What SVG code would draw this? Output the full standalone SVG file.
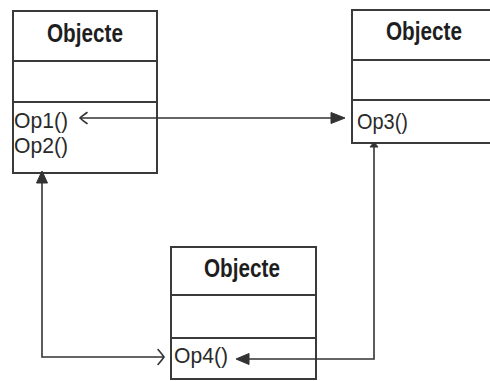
<svg xmlns="http://www.w3.org/2000/svg" width="490" height="381" viewBox="0 0 490 381">
  <style>
    .box { fill: #ffffff; stroke: #3a3a3a; stroke-width: 2; }
    .div { stroke: #3a3a3a; stroke-width: 2; }
    .title { font-family: "Liberation Sans", Arial, sans-serif; font-weight: bold; font-size: 25px; fill: #1e1e1e; }
    .op { font-family: "Liberation Sans", Arial, sans-serif; font-size: 22px; fill: #2a2a2a; }
    .wire { fill: none; stroke: #333333; stroke-width: 1.6; }
    .head { fill: #333333; stroke: #333333; stroke-width: 1; }
    .open { fill: none; stroke: #333333; stroke-width: 1.6; stroke-linecap: round; }
  </style>

  <rect width="490" height="381" fill="#ffffff"/>

  <!-- class box: top left -->
  <g id="objecte-a">
    <rect class="box" x="13" y="11" width="144" height="162"/>
    <line class="div" x1="13" y1="61" x2="157" y2="61"/>
    <line class="div" x1="13" y1="102" x2="157" y2="102"/>
    <text class="title" x="47" y="42" textLength="76" lengthAdjust="spacingAndGlyphs">Objecte</text>
    <text class="op" x="14" y="128" textLength="54" lengthAdjust="spacingAndGlyphs">Op1()</text>
    <text class="op" x="14" y="153" textLength="54" lengthAdjust="spacingAndGlyphs">Op2()</text>
  </g>

  <!-- class box: top right -->
  <g id="objecte-b">
    <rect class="box" x="352" y="10" width="146" height="133"/>
    <line class="div" x1="352" y1="60" x2="498" y2="60"/>
    <line class="div" x1="352" y1="100" x2="498" y2="100"/>
    <text class="title" x="386" y="40" textLength="76" lengthAdjust="spacingAndGlyphs">Objecte</text>
    <text class="op" x="357" y="129" textLength="51" lengthAdjust="spacingAndGlyphs">Op3()</text>
  </g>

  <!-- class box: bottom -->
  <g id="objecte-c">
    <rect class="box" x="171" y="247" width="145" height="132"/>
    <line class="div" x1="171" y1="295" x2="316" y2="295"/>
    <line class="div" x1="171" y1="338" x2="316" y2="338"/>
    <text class="title" x="204" y="277" textLength="76" lengthAdjust="spacingAndGlyphs">Objecte</text>
    <text class="op" x="174" y="363" textLength="54" lengthAdjust="spacingAndGlyphs">Op4()</text>
  </g>

  <!-- message connectors -->
  <g id="connectors">
    <!-- Op1 <-> Op3 -->
    <line class="wire" x1="81" y1="118" x2="334" y2="118"/>
    <path class="open" d="M87,112.5 Q82,116 80,118 Q82,120 87,123.5"/>
    <polygon class="head" points="345,118 331,112.5 331,123.5"/>

    <!-- Op2 <-> Op4 -->
    <polyline class="wire" points="42,180 42,357 163,357"/>
    <polygon class="head" points="42,171 36.5,183 47.5,183"/>
    <path class="open" d="M158,349.5 Q162,354 164,357 Q162,360 158,364.5"/>

    <!-- Op3 -> Op4 -->
    <polyline class="wire" points="374,146 374,359 246,359"/>
    <polygon class="head" points="374,142 370,147 378,147"/>
    <polygon class="head" points="236,359 249,353.5 249,364.5"/>
  </g>
</svg>
